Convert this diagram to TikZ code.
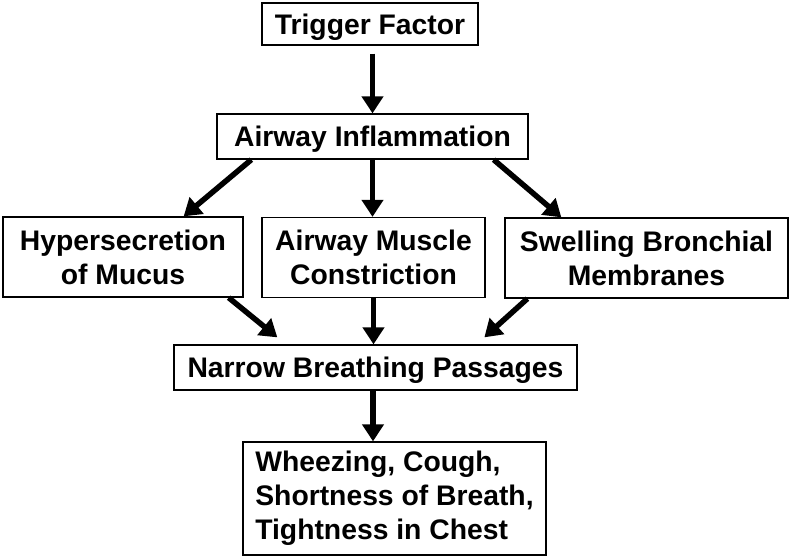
\documentclass[tikz,border=0pt]{standalone}
\usepackage{fontspec}
\setmainfont{Liberation Sans}
\usetikzlibrary{arrows.meta,calc,positioning}

\begin{document}
\begin{tikzpicture}[x=1pt,y=-1pt,
block/.style={
draw, rectangle, line width=1.3pt, inner sep=0pt, align=center, font=\fontsize{28.3}{34}\selectfont\bfseries
},
oneline/.style={block, text depth=0pt},
flow/.style={line width=5.5pt, -{Triangle[length=17pt,width=21pt]}}]
  \useasboundingbox (0,0) rectangle (792,557);

    \node [oneline, minimum width=216pt, minimum height=42pt] (trig) at (370,24) {Trigger Factor};

    \node [oneline, minimum width=311pt, minimum height=45pt] (infl) at (372.5,136.5) {Airway Inflammation};

    \node [block, minimum width=240pt, minimum height=80pt] (hyp) at (123,257) {Hypersecretion\\of Mucus};

    \node [block, minimum width=223pt, minimum height=80pt] (musc) at (373.5,257.5) {Airway Muscle\\Constriction};

    \node [block, minimum width=283pt, minimum height=80pt] (swell) at (646.5,258) {Swelling Bronchial\\Membranes};

    \node [oneline, minimum width=403pt, minimum height=45pt] (narrow) at (375.5,367.5) {Narrow Breathing Passages};

    \node [block, minimum width=303pt, minimum height=113pt, align=left] (wheez) at (394.5,498.5) {Wheezing, Cough,\\Shortness of Breath,\\Tightness in Chest\hspace*{5pt}};


  \draw[flow, shorten <=8pt] (trig.south -| infl.north) -- (infl.north);
  \draw[flow] ($(infl.south west)+(35,0)$) -- ($(hyp.north east)+(-60,0)$);
  \draw[flow] (infl.south) -- (infl.south |- musc.north);
  \draw[flow] ($(infl.south east)+(-35,0)$) -- ($(swell.north west)+(57,0)$);
  \draw[flow] ($(hyp.south east)+(-15,0)$) -- ($(narrow.north west)+(104,-7)$);
  \draw[flow] (musc.south) -- (musc.south |- narrow.north);
  \draw[flow] ($(swell.south west)+(23,0)$) -- ($(narrow.north west)+(311,-7)$);
  \draw[flow] ([xshift=-2.5pt]narrow.south) -- ([xshift=-2.5pt]narrow.south |- wheez.north);
\end{tikzpicture}
\end{document}
